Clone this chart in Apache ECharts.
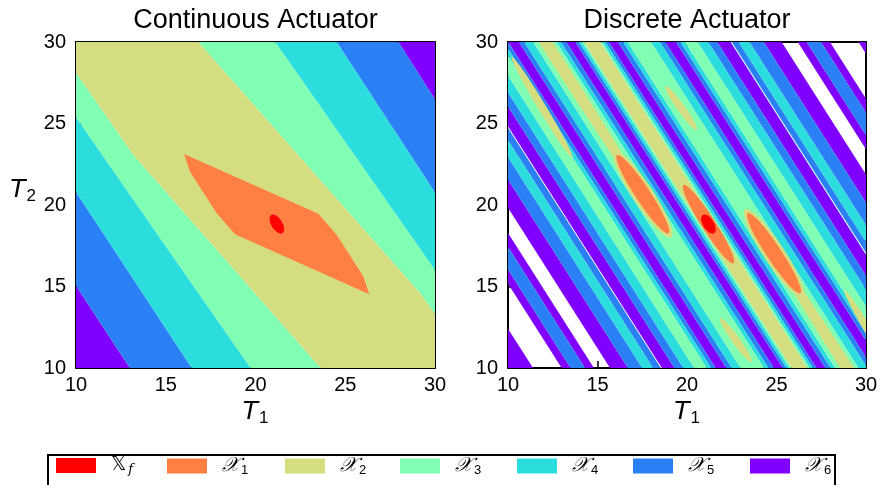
<!DOCTYPE html>
<html>
<head>
<meta charset="utf-8">
<script src="https://cdn.jsdelivr.net/npm/echarts@6/dist/echarts.min.js"></script>
<style>
html, body { margin: 0; padding: 0; background: #fff; }
#chart { width: 881px; height: 485px; }
</style>
</head>
<body>
<div id="chart"></div>
<script>
// level sets, from terminal set to X6
const levelNames = ['Xf', 'X1', 'X2', 'X3', 'X4', 'X5', 'X6'];
const levelColors = ['#ff0000', '#ff8042', '#d4dd80', '#80ffb4', '#2bdddd', '#2b80f6', '#8000ff'];
const tickValues = [10, 15, 20, 25, 30];

// continuous actuator: region outlines in (T1, T2)
const contPurple = [
    [[10, 10], [10, 15.05], [13.0, 10]],
    [[27.96, 30], [30, 30], [30, 26.48]]
];
const contBlue = [
    [[10, 15.05], [10, 20.8], [16.45, 10], [13.0, 10]],
    [[24.52, 30], [27.96, 30], [30, 26.48], [30, 20.75]]
];
const contCyan = [
    [[10, 20.8], [10, 25.38], [19.73, 10], [16.45, 10]],
    [[21.09, 30], [24.52, 30], [30, 20.75], [30, 16.0]]
];
const contGreen = [
    [[10, 25.38], [10, 28.12], [13.2, 23.07], [23.63, 10], [19.73, 10]],
    [[16.81, 30], [21.09, 30], [30, 16.0], [30, 13.3], [29.16, 14.6]]
];
const contOlive = [
    [[10, 28.12], [10, 30], [16.81, 30], [29.16, 14.6], [30, 13.3], [30, 10], [23.63, 10], [13.2, 23.07]]
];
const contOrange = [
    [[16.02, 23.13], [16.35, 22.04], [17.0, 20.92], [17.84, 19.49], [18.86, 18.2],
     [26.34, 14.53], [26.01, 15.62], [25.36, 16.74], [24.52, 18.17], [23.5, 19.46]]
];
// ellipses: centre, end of long half-axis, end of short half-axis
const contRed = [[21.19, 18.83, 21.51, 18.27, 21.45, 19.01]];

// discrete actuator: parallel bands, edges given where they cross T2 = 10
const stripeSlope = -1.725;
const stripeEdges = [10.0, 11.4, 13.0, 13.5, 14.3, 14.8, 15.7, 16.7, 17.5, 18.1, 18.55, 19.3, 19.8, 20.4,
    21.1, 21.35, 21.6, 22.2, 22.5, 23.0, 24.3, 24.55, 24.85, 25.35, 25.55, 25.72, 25.85,
    26.73, 26.86, 27.03, 27.23, 27.73, 28.03, 28.28, 29.58, 30.08, 30.38, 30.98, 31.23, 31.48,
    32.18, 32.78, 33.28, 34.03, 34.48, 35.08, 35.88, 36.88, 37.78, 38.28, 39.08, 39.58, 41.18, 42.58];
// -1 = not in any set
const stripeLevels = [6, -1, 6, 5, 6, -1, 6, 5, 4, 5, 6, 5, 4, 3, 4, 5, 6, 5, 4, 3, 4, 5, 6, 5, 4, 3,
    2,
    3, 4, 5, 6, 5, 4, 3, 4, 5, 6, 5, 4, 3, 4, 5, 6, 5, 4, 5, 6, -1, 6, 5, 6, -1, 6];
const thinGaps = [18.57, 34.07];
const discRed = [[21.20, 18.83, 21.52, 18.27, 21.46, 19.01]];
const discOrange = [
    [17.53, 20.66, 18.97, 18.26, 17.88, 20.91],
    [21.20, 18.83, 22.60, 16.43, 21.53, 19.06],
    [24.86, 17.04, 26.33, 14.59, 25.21, 17.29]
];
const discOlive = [
    [12.1, 30.0, 18.6, 18.8, 12.38, 30.2],
    [30.3, 7.66, 23.8, 18.86, 30.02, 7.46],
    [17.53, 20.66, 19.12, 18.01, 18.02, 21.01],
    [24.86, 17.04, 26.48, 14.34, 25.35, 17.39],
    [11.9, 26.0, 13.6, 22.9, 12.09, 26.13],
    [19.67, 25.95, 20.55, 24.6, 19.85, 26.09],
    [22.73, 11.71, 21.85, 13.06, 22.55, 11.57],
    [30.5, 11.66, 28.8, 14.76, 30.31, 11.53]
];

const FONT = 'Liberation Sans';
const INK = '#020202';
const legendLeft = [56, 167, 285, 400, 517, 633, 750];

function bandPolys(level) {
    const out = [];
    const dx = (30 - 10) / stripeSlope;
    for (let i = 0; i < stripeLevels.length; i++) {
        if (stripeLevels[i] !== level) continue;
        const u0 = stripeEdges[i], u1 = stripeEdges[i + 1];
        out.push([[u0, 10], [u1, 10], [u1 + dx, 30], [u0 + dx, 30]]);
    }
    return out;
}

function clipRect(params) {
    const cs = params.coordSys;
    return { type: 'rect', shape: { x: cs.x, y: cs.y, width: cs.width, height: cs.height } };
}

function shapeSeries(name, color, panel, polys, ellipses) {
    const items = polys.map(p => ({ poly: p })).concat(ellipses.map(e => ({ ell: e })));
    return {
        type: 'custom',
        name: name,
        xAxisIndex: panel,
        yAxisIndex: panel,
        silent: true,
        animation: false,
        itemStyle: { color: color },
        encode: { x: -1, y: -1 },
        data: items.map((d, i) => [i]),
        renderItem: function (params, api) {
            const it = items[params.dataIndex];
            let child;
            if (it.poly) {
                child = {
                    type: 'polygon',
                    shape: { points: it.poly.map(p => api.coord(p)) },
                    style: { fill: color }
                };
            } else {
                const e = it.ell;
                const c = api.coord([e[0], e[1]]);
                const m = api.coord([e[2], e[3]]);
                const n = api.coord([e[4], e[5]]);
                child = {
                    type: 'circle',
                    x: c[0], y: c[1],
                    scaleX: Math.hypot(m[0] - c[0], m[1] - c[1]),
                    scaleY: Math.hypot(n[0] - c[0], n[1] - c[1]),
                    rotation: -Math.atan2(m[1] - c[1], m[0] - c[0]),
                    shape: { cx: 0, cy: 0, r: 1 },
                    style: { fill: color }
                };
            }
            return { type: 'group', clipPath: clipRect(params), children: [child] };
        }
    };
}

const contPolys = [[], contOrange, contOlive, contGreen, contCyan, contBlue, contPurple];
const contEllipses = [contRed, [], [], [], [], [], []];
const discEllipses = [discRed, discOrange, discOlive, [], [], [], []];

const series = [];
for (let L = 6; L >= 0; L--) {
    series.push(shapeSeries(levelNames[L], levelColors[L], 0, contPolys[L], contEllipses[L]));
    series.push(shapeSeries(levelNames[L], levelColors[L], 1, bandPolys(L), discEllipses[L]));
}
// thin gaps in the discrete map
series.push({
    type: 'custom',
    xAxisIndex: 1,
    yAxisIndex: 1,
    silent: true,
    animation: false,
    encode: { x: -1, y: -1 },
    data: thinGaps.map((u, i) => [i]),
    renderItem: function (params, api) {
        const u = thinGaps[params.dataIndex];
        const a = api.coord([u, 10]);
        const b = api.coord([u + 20 / stripeSlope, 30]);
        return {
            type: 'group', clipPath: clipRect(params),
            children: [{ type: 'line', shape: { x1: a[0], y1: a[1], x2: b[0], y2: b[1] },
                style: { stroke: '#fff', lineWidth: 1 } }]
        };
    }
});

const subName = { t: { fontFamily: 'DejaVu Sans', fontStyle: 'italic', fontSize: 25, color: INK },
    s: { fontFamily: FONT, fontSize: 17, color: INK, padding: [12, 0, 0, 1] } };

function axisBase(showLabel) {
    return {
        type: 'value', min: 10, max: 30, interval: 5,
        axisLine: { show: true, onZero: false, lineStyle: { color: '#000', width: 2 } },
        axisTick: { show: true, inside: true, length: 7, customValues: tickValues,
            lineStyle: { color: '#000', width: 1.5 } },
        axisLabel: { show: showLabel, color: INK, fontFamily: FONT, fontSize: 20,
            customValues: tickValues, showMinLabel: true, showMaxLabel: true, hideOverlap: false },
        splitLine: { show: false }
    };
}
function makeX(grid, top) {
    const ax = axisBase(!top);
    ax.gridIndex = grid;
    ax.position = top ? 'top' : 'bottom';
    ax.axisLabel.margin = 7;
    if (!top) {
        ax.name = '{t|T}{s|1}';
        ax.nameLocation = 'middle';
        ax.nameGap = 30;
        ax.nameTextStyle = { rich: subName };
    }
    return ax;
}
function makeY(grid, right, withName) {
    const ax = axisBase(!right);
    ax.gridIndex = grid;
    ax.position = right ? 'right' : 'left';
    ax.axisLabel.margin = 10;
    if (withName) {
        ax.name = '{t|T}{s|2}';
        ax.nameLocation = 'middle';
        ax.nameGap = 40;
        ax.nameRotate = 0;
        ax.nameTextStyle = { rich: subName, padding: [0, 0, 30, 0] };
    }
    return ax;
}

// one legend block per level inside the framed box
const legends = levelNames.map((name, i) => ({
    left: legendLeft[i], top: 456, padding: 0,
    icon: 'rect', itemWidth: 40, itemHeight: 15,
    selectedMode: false,
    data: [name],
    formatter: function (n) {
        return i === 0 ? '{gap| }{bb|𝕏}{subi|f}' : '{gap| }{cal|𝒳}{sub|' + i + '}';
    },
    textStyle: {
        rich: {
            gap: { width: 10, fontSize: 12 },
            bb: { fontFamily: 'DejaVu Sans', fontSize: 19, color: INK },
            cal: { fontFamily: 'DejaVu Sans', fontStyle: 'italic', fontSize: 20, color: INK },
            sub: { fontFamily: FONT, fontSize: 13, color: INK, padding: [8, 0, 0, 2] },
            subi: { fontFamily: 'DejaVu Serif', fontStyle: 'italic', fontSize: 13, color: INK, padding: [8, 0, 0, 2] }
        }
    }
}));

const chart = echarts.init(document.getElementById('chart'), null, { renderer: 'canvas' });
chart.setOption({
    animation: false,
    backgroundColor: '#fff',
    grid: [
        { left: 76, top: 42, width: 359, height: 326 },
        { left: 508, top: 42, width: 358, height: 326 }
    ],
    // series use axes 0 and 1; 2..3 are the mirrored frame axes
    xAxis: [makeX(0, false), makeX(1, false), makeX(0, true), makeX(1, true)],
    yAxis: [makeY(0, false, true), makeY(1, false, false), makeY(0, true, false), makeY(1, true, false)],
    legend: legends,
    graphic: [
        { type: 'text', x: 255.5, y: 7, style: { text: 'Continuous Actuator', fontFamily: FONT, fontSize: 27,
            fill: INK, align: 'center', verticalAlign: 'top' } },
        { type: 'text', x: 687, y: 7, style: { text: 'Discrete Actuator', fontFamily: FONT, fontSize: 27,
            fill: INK, align: 'center', verticalAlign: 'top' } },
        { type: 'rect', shape: { x: 48, y: 455, width: 787, height: 45 },
            style: { fill: 'none', stroke: '#000', lineWidth: 2 } }
    ],
    series: series
});
</script>
</body>
</html>
